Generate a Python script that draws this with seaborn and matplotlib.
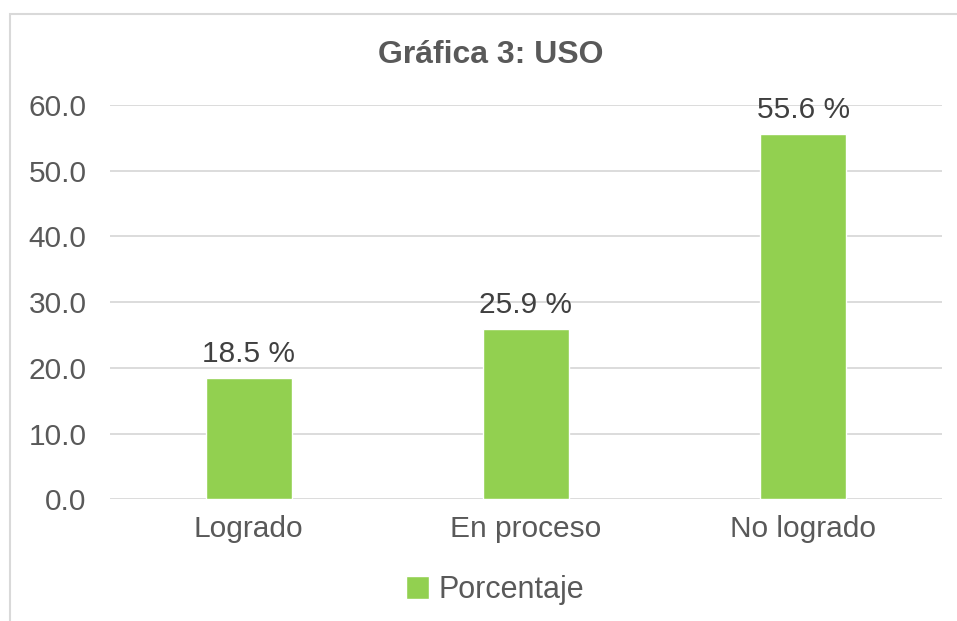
import matplotlib.pyplot as plt
import seaborn as sns
from matplotlib.patches import Rectangle

# Datos de la gráfica
categorias = ['Logrado', 'En proceso', 'No logrado']
porcentajes = [18.5, 25.9, 55.6]
ticks_y = [0, 10, 20, 30, 40, 50, 60]
serie = 'Porcentaje'

verde = '#92D050'
gris_texto = '#595959'
gris_linea = '#D9D9D9'

sns.set_theme(style='white')
plt.rcParams['font.family'] = ['Liberation Sans', 'DejaVu Sans']

fig = plt.figure(figsize=(9.57, 6.21), dpi=100)
ax = fig.add_axes([0.115, 0.196, 0.869, 0.635])

sns.barplot(x=categorias, y=porcentajes, color=verde, width=0.31,
            saturation=1, label=serie, ax=ax)
if ax.get_legend() is not None:
    ax.get_legend().remove()

ax.set_ylim(0, 60)
ax.set_yticks(ticks_y)
ax.set_yticklabels([f'{v:.1f}' for v in ticks_y])
ax.yaxis.grid(True, color=gris_linea, linewidth=1.3)
ax.set_axisbelow(True)
for s in ax.spines.values():
    s.set_visible(False)
ax.tick_params(axis='both', length=0, labelsize=21.5, colors=gris_texto)
ax.tick_params(axis='x', pad=11)
ax.tick_params(axis='y', pad=17)
ax.set_xlabel('')
ax.set_ylabel('')

for container in ax.containers:
    ax.bar_label(container, labels=[f'{v:.1f} %' for v in porcentajes],
                 padding=7, fontsize=21.5, color='#404040')

# Título centrado en el área del gráfico
fig.text(491 / 957, 1 - 55 / 621, 'Gráfica 3: USO', fontsize=23, fontweight='bold',
         color=gris_texto, ha='center', va='center')

leg = fig.legend(*ax.get_legend_handles_labels(), loc='center',
                 bbox_to_anchor=(495 / 957, 1 - 590 / 621), frameon=False,
                 fontsize=22, handlelength=0.75, handleheight=0.75, handletextpad=0.3)
for t in leg.get_texts():
    t.set_color(gris_texto)

# Marco del área del gráfico
fig.patches.append(Rectangle((10 / 957, -0.1), 1.2, 1 - 14 / 621 + 0.1,
                             transform=fig.transFigure, fill=False,
                             edgecolor=gris_linea, linewidth=1.5))

plt.savefig('out.png', dpi=100)
